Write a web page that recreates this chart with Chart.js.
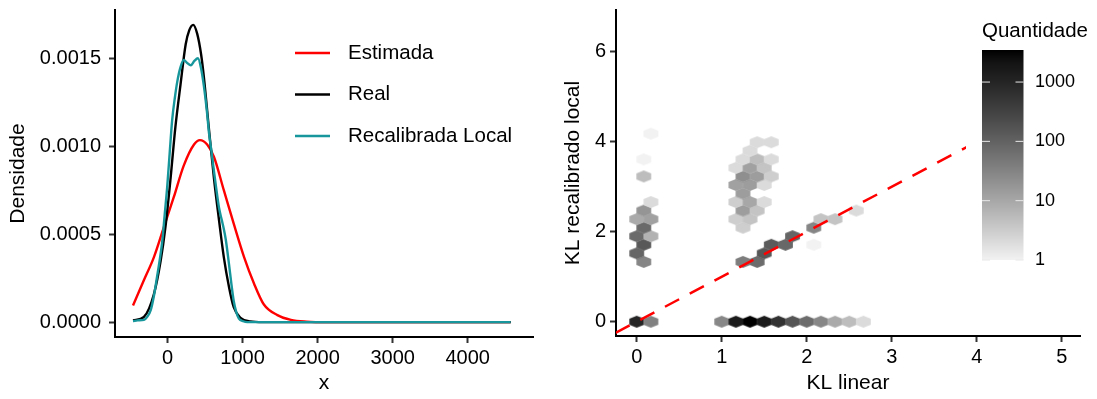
<!DOCTYPE html>
<html>
<head>
<meta charset="utf-8">
<script src="https://cdn.jsdelivr.net/npm/chart.js@4.4.1/dist/chart.umd.min.js"></script>
<style>
  html, body { margin: 0; padding: 0; background: #fff; }
  body { width: 1097px; height: 399px; position: relative; overflow: hidden; }
  canvas { position: absolute; top: 0; }
  #densChart { left: 0; }
  #hexChart { left: 549px; }
</style>
</head>
<body>
<canvas id="densChart" width="549" height="399"></canvas>
<canvas id="hexChart" width="548" height="399"></canvas>
<script>
// ---------- left panel: density curves ----------
const seriesNames = ["Estimada", "Real", "Recalibrada Local"];

const estX = [-460, -314, -181, -49, 83, 216, 353, 432, 528, 618, 750, 882, 1020, 1152, 1284, 1464, 1644, 1855, 2120, 3180, 4573];
const estY = [0.000095, 0.00024, 0.00037, 0.00054, 0.00071, 0.00089, 0.00101, 0.001035, 0.00101, 0.00094, 0.00075, 0.00056, 0.00037, 0.00022, 0.0001, 0.00004, 0.000013, 0.000003, 0, 0, 0];

const realX = [-460, -314, -181, -91, -28, 41, 105, 173, 242, 290, 342, 395, 448, 485, 549, 618, 686, 750, 819, 882, 972, 1104, 1270, 1590, 2650, 4573];
const realY = [0.00001, 0.00003, 0.00016, 0.00035, 0.00054, 0.00082, 0.00111, 0.00135, 0.00158, 0.00166, 0.00169, 0.00164, 0.00152, 0.00139, 0.00111, 0.00082, 0.00058, 0.00037, 0.0002, 0.000085, 0.000025, 0.000004, 0, 0, 0, 0];

const recX = [-460, -398, -314, -271, -223, -181, -139, -102, -70, -38, -4, 30, 62, 99, 131, 173, 216, 258, 311, 358, 406, 448, 485, 522, 554, 586, 618, 649, 686, 723, 750, 776, 819, 850, 882, 914, 951, 1009, 1062, 1270, 4573];
const recY = [0.000006, 0.00001, 0.000013, 0.00003, 0.00007, 0.00015, 0.00026, 0.00036, 0.00046, 0.00061, 0.00077, 0.00097, 0.00115, 0.00128, 0.00137, 0.00145, 0.00149, 0.001475, 0.00146, 0.001485, 0.0015, 0.00144, 0.00134, 0.00121, 0.00107, 0.00097, 0.00086, 0.00076, 0.00065, 0.00058, 0.00053, 0.00047, 0.00033, 0.00022, 0.00012, 0.00006, 0.00002, 0.000005, 0, 0, 0];

const densXTicks = [0, 1000, 2000, 3000, 4000];
const densYTicks = [0, 0.0005, 0.001, 0.0015];

// ---------- right panel: hexbin of KL values ----------
const hexX = [
  0, 0.167, 1.0, 1.167, 1.333, 1.5, 1.667, 1.833, 2.0, 2.167, 2.333, 2.5, 2.667,
  0.083, 0, 0.083, 0, 0.167, 0.083, 0, 0.167, 0.083, 0.167, 0.083, 0.083, 0.167,
  1.25, 1.167, 1.333, 1.25, 1.417, 1.167, 1.333, 1.5, 1.25, 1.167, 1.333, 1.5, 1.25, 1.417, 1.583, 1.167, 1.333, 1.5, 1.25, 1.417, 1.583, 1.333, 1.417, 1.583,
  1.25, 1.417, 1.5, 1.583, 1.75, 2.083, 1.833, 2.083, 2.167, 2.333, 2.583
];
const hexY = [
  0, 0, 0, 0, 0, 0, 0, 0, 0, 0, 0, 0, 0,
  1.33, 1.52, 1.71, 1.90, 1.90, 2.09, 2.28, 2.28, 2.47, 2.66, 3.23, 3.61, 4.18,
  2.09, 2.28, 2.28, 2.47, 2.47, 2.66, 2.66, 2.66, 2.85, 3.04, 3.04, 3.04, 3.23, 3.23, 3.23, 3.42, 3.42, 3.42, 3.61, 3.61, 3.61, 3.80, 3.99, 3.99,
  1.33, 1.33, 1.52, 1.71, 1.71, 1.71, 1.90, 2.09, 2.28, 2.28, 2.47
];
const hexCount = [
  1000, 35, 28, 1500, 3470, 1500, 580, 160, 70, 28, 9, 5, 2,
  30, 90, 140, 75, 7, 75, 9, 12, 18, 2, 5, 1, 1,
  3, 3, 4, 14, 4, 3, 10, 2, 14, 12, 14, 2, 22, 14, 3, 2, 12, 4, 2, 5, 2, 2, 2, 2,
  40, 70, 150, 130, 80, 1, 90, 30, 4, 4, 2
];
const refLineX = [-0.25, 5.25];
const refLineY = [-0.25, 5.25];
const klXTicks = [0, 1, 2, 3, 4, 5];
const klYTicks = [0, 2, 4, 6];
const countBreaks = [1, 10, 100, 1000];

// hex bin size (x width, vertical row spacing)
const hexBinX = 1 / 6;
const hexBinY = 0.19;

const FONT = "'Liberation Sans', Arial, Helvetica, sans-serif";
Chart.defaults.font.family = FONT;
Chart.defaults.color = "#000";

function toPts(xs, ys) {
  return xs.map((x, i) => ({ x: x, y: ys[i] }));
}

// log10 fill scale from grey95 to black, interpolated on lightness
const countMax = Math.max(...hexCount);
function grayForT(t) {
  const L = 95.5 * (1 - t);
  const Y = L > 8 ? Math.pow((L + 16) / 116, 3) : L / 903.3;
  const s = Y <= 0.0031308 ? 12.92 * Y : 1.055 * Math.pow(Y, 1 / 2.4) - 0.055;
  const v = Math.round(Math.min(1, s) * 255);
  return "rgb(" + v + "," + v + "," + v + ")";
}
function countColor(n) {
  return grayForT(Math.log10(n) / Math.log10(countMax));
}

const hexCache = {};
function hexStyle(ctx) {
  if (ctx.type !== "data") return "circle";
  const sx = ctx.chart.scales.x, sy = ctx.chart.scales.y;
  const w = Math.abs(sx.getPixelForValue(hexBinX) - sx.getPixelForValue(0));
  const h = Math.abs(sy.getPixelForValue(0) - sy.getPixelForValue(hexBinY * 4 / 3));
  const color = countColor(hexCount[ctx.dataIndex]);
  const key = color + "|" + w.toFixed(2) + "|" + h.toFixed(2);
  if (!hexCache[key]) {
    const c = document.createElement("canvas");
    c.width = Math.ceil(w) + 2;
    c.height = Math.ceil(h) + 2;
    const g = c.getContext("2d");
    const cx = c.width / 2, cy = c.height / 2;
    const hw = w / 2 + 0.3, hh = h / 2 + 0.3;
    g.beginPath();
    g.moveTo(cx, cy - hh);
    g.lineTo(cx + hw, cy - hh / 2);
    g.lineTo(cx + hw, cy + hh / 2);
    g.lineTo(cx, cy + hh);
    g.lineTo(cx - hw, cy + hh / 2);
    g.lineTo(cx - hw, cy - hh / 2);
    g.closePath();
    g.fillStyle = color;
    g.fill();
    hexCache[key] = c;
  }
  return hexCache[key];
}

function axisStyle(extra) {
  return Object.assign({
    type: "linear",
    border: { display: true, color: "#000", width: 2 },
    grid: { display: true, drawOnChartArea: false, drawTicks: true, tickLength: 6, tickColor: "#333", tickWidth: 2 },
  }, extra);
}

// legend drawn inside the density panel
const densLegend = {
  id: "densLegend",
  afterDraw(chart) {
    const c = chart.ctx;
    c.save();
    c.font = "20.5px " + FONT;
    c.textBaseline = "middle";
    c.textAlign = "left";
    const rows = [53, 94.5, 136];
    chart.data.datasets.forEach((ds, i) => {
      c.strokeStyle = ds.borderColor;
      c.lineWidth = 2.5;
      c.beginPath();
      c.moveTo(295, rows[i]);
      c.lineTo(330, rows[i]);
      c.stroke();
      c.fillStyle = "#000";
      c.fillText(ds.label, 348, rows[i]);
    });
    c.restore();
  }
};

// colour bar legend inside the hexbin panel
const colorbar = {
  id: "colorbar",
  afterDraw(chart) {
    const c = chart.ctx;
    const bx = 433, bw = 41.5, top = 50, bottom = 260;
    c.save();
    c.fillStyle = "#fff";
    c.fillRect(417, 12, chart.width - 417, 262);
    c.fillStyle = "#000";
    c.font = "20.5px " + FONT;
    c.textBaseline = "middle";
    c.textAlign = "left";
    c.fillText("Quantidade", bx, 31);
    for (let py = top; py < bottom; py++) {
      const t = 1 - (py + 0.5 - top) / (bottom - top);
      c.fillStyle = grayForT(t);
      c.fillRect(bx, py, bw, 1);
    }
    c.font = "18px " + FONT;
    const logMax = Math.log10(countMax);
    countBreaks.forEach(b => {
      const y = bottom - Math.log10(b) / logMax * (bottom - top);
      c.strokeStyle = "#e8e8e8";
      c.lineWidth = 1;
      c.beginPath();
      c.moveTo(bx, y); c.lineTo(bx + 8, y);
      c.moveTo(bx + bw - 8, y); c.lineTo(bx + bw, y);
      c.stroke();
      c.fillStyle = "#000";
      c.fillText(String(b), 486, y);
    });
    c.restore();
  }
};

new Chart(document.getElementById("densChart"), {
  type: "line",
  data: {
    datasets: [
      { label: seriesNames[0], data: toPts(estX, estY), borderColor: "#FF0000", order: 3 },
      { label: seriesNames[1], data: toPts(realX, realY), borderColor: "#000000", order: 2 },
      { label: seriesNames[2], data: toPts(recX, recY), borderColor: "#17979B", order: 1 },
    ],
  },
  options: {
    responsive: false,
    animation: false,
    elements: {
      point: { radius: 0 },
      line: { borderWidth: 2.4, cubicInterpolationMode: "monotone", fill: false },
    },
    layout: { padding: { top: 10, right: 16, bottom: 0, left: 0 } },
    plugins: { legend: { display: false }, tooltip: { enabled: false } },
    scales: {
      x: axisStyle({
        min: -700,
        max: 4870,
        afterBuildTicks: (ax) => { ax.ticks = densXTicks.map(v => ({ value: v })); },
        afterFit: (ax) => { ax.height = 62; ax.paddingLeft = 0; ax.paddingRight = 0; },
        ticks: { font: { size: 20 }, padding: 3, color: "#000", callback: (v) => String(v) },
        title: { display: true, text: "x", font: { size: 21 }, padding: { top: 0, bottom: 3 } },
      }),
      y: axisStyle({
        min: -0.0000845,
        max: 0.0017745,
        afterBuildTicks: (ax) => { ax.ticks = densYTicks.map(v => ({ value: v })); },
        afterFit: (ax) => { ax.width = 115; ax.paddingTop = 0; ax.paddingBottom = 0; },
        ticks: { font: { size: 20 }, padding: 8, color: "#000", callback: (v) => Number(v).toFixed(4) },
        title: { display: true, text: "Densidade", font: { size: 21 }, padding: { top: 6, bottom: 0 } },
      }),
    },
  },
  plugins: [densLegend],
});

new Chart(document.getElementById("hexChart"), {
  type: "scatter",
  data: {
    datasets: [
      {
        type: "line",
        label: "y = x",
        data: toPts(refLineX, refLineY),
        borderColor: "#FF0000",
        borderWidth: 2.5,
        borderDash: [16, 12],
        pointRadius: 0,
        fill: false,
        order: 0,
      },
      {
        label: "Quantidade",
        data: toPts(hexX, hexY),
        pointRadius: 7,
        pointHoverRadius: 7,
        pointStyle: hexStyle,
        order: 1,
      },
    ],
  },
  options: {
    responsive: false,
    animation: false,
    layout: { padding: { top: 10, right: 17, bottom: 0, left: 0 } },
    plugins: { legend: { display: false }, tooltip: { enabled: false } },
    scales: {
      x: axisStyle({
        min: -0.244,
        max: 5.215,
        afterBuildTicks: (ax) => { ax.ticks = klXTicks.map(v => ({ value: v })); },
        afterFit: (ax) => { ax.height = 63; ax.paddingLeft = 0; ax.paddingRight = 0; },
        ticks: { font: { size: 20 }, padding: 3, color: "#000" },
        title: { display: true, text: "KL linear", font: { size: 21 }, padding: { top: 0, bottom: 3 } },
      }),
      y: axisStyle({
        min: -0.318,
        max: 6.93,
        afterBuildTicks: (ax) => { ax.ticks = klYTicks.map(v => ({ value: v })); },
        afterFit: (ax) => { ax.width = 67; ax.paddingTop = 0; ax.paddingBottom = 0; },
        ticks: { font: { size: 20 }, padding: 4, color: "#000" },
        title: { display: true, text: "KL recalibrado local", font: { size: 21 }, padding: { top: 12, bottom: 0 } },
      }),
    },
  },
  plugins: [colorbar],
});
</script>
</body>
</html>
